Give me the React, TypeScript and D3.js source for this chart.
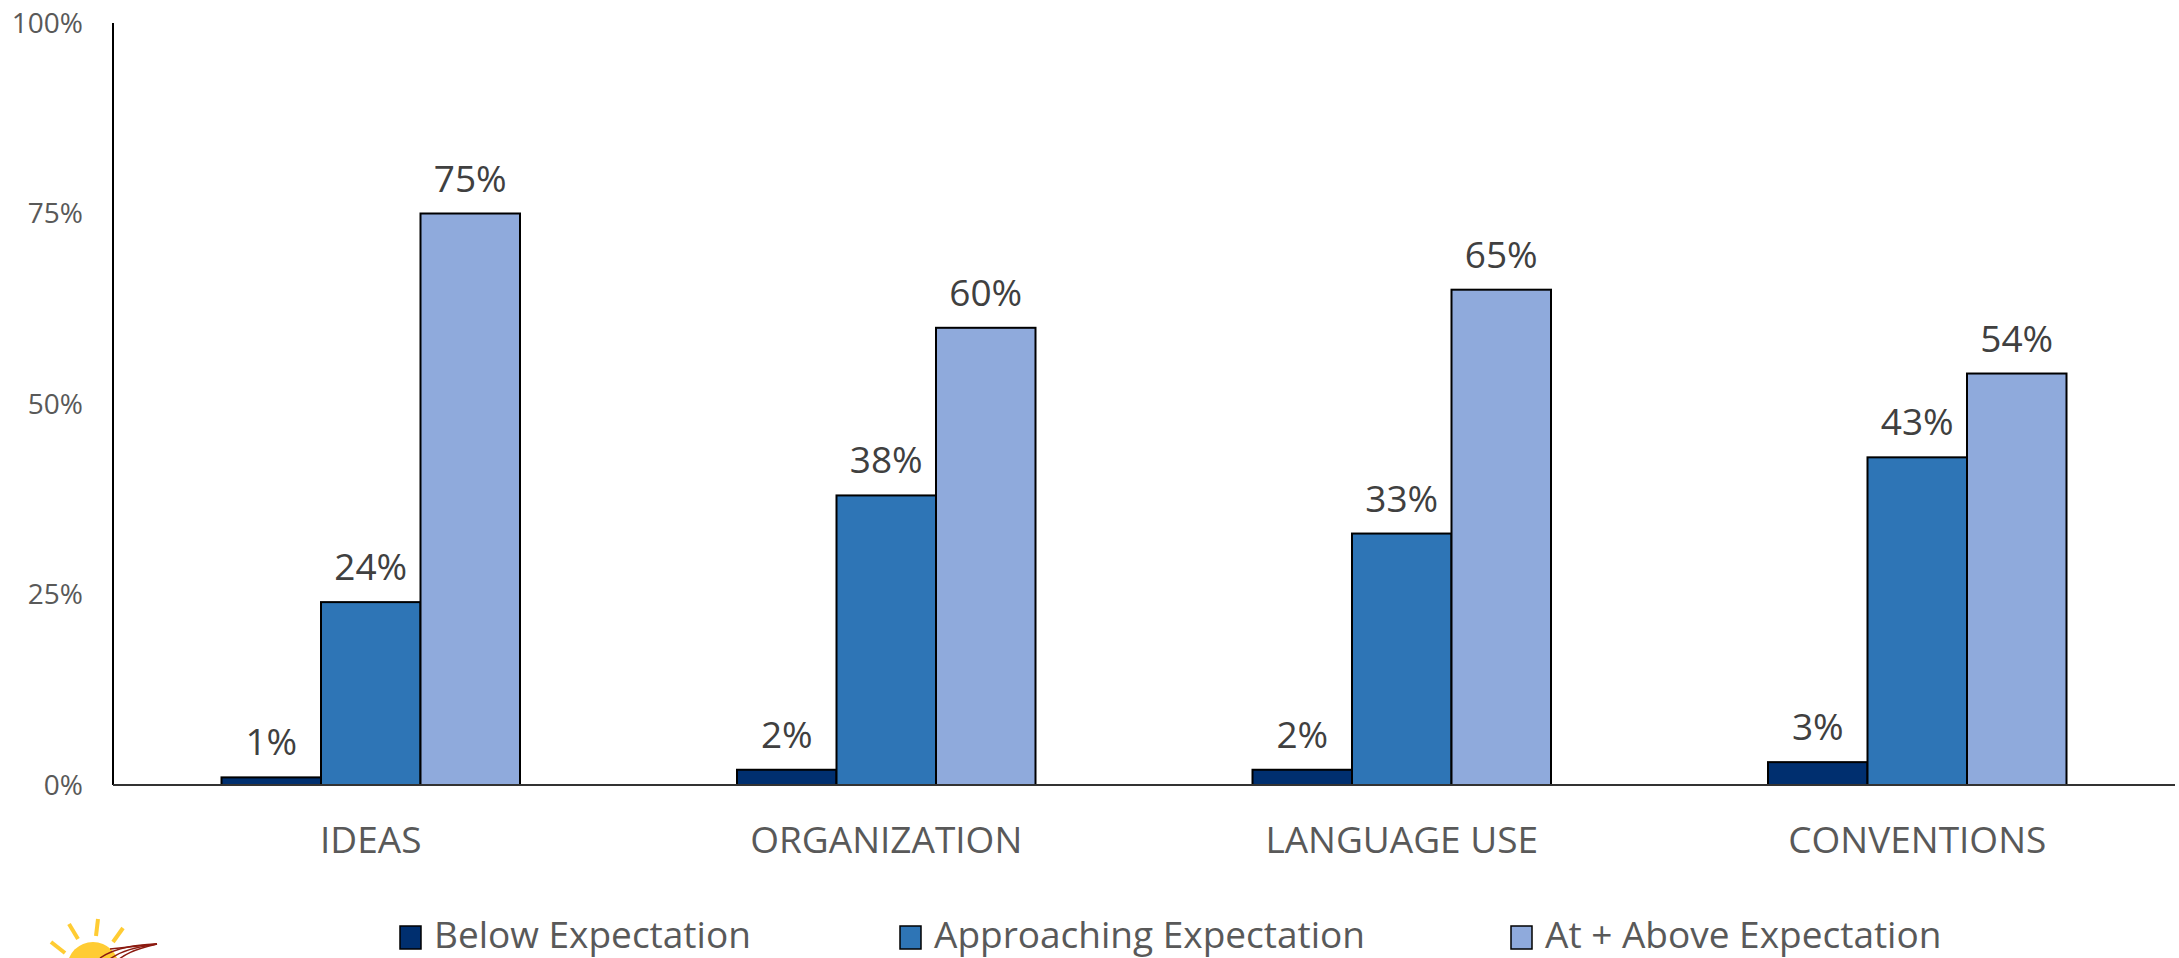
import React from "react";
import * as d3 from "d3";

const categories = ["IDEAS", "ORGANIZATION", "LANGUAGE USE", "CONVENTIONS"];
const seriesNames = ["Below Expectation", "Approaching Expectation", "At + Above Expectation"];
const belowValues = [1, 2, 2, 3];
const approachingValues = [24, 38, 33, 43];
const aboveValues = [75, 60, 65, 54];
const yTicks = [0, 25, 50, 75, 100];
const seriesColors = ["#002F6F", "#2E75B6", "#8FAADC"];

const W = 2179;
const H = 958;
const M = { left: 113, right: 2175, top: 23, bottom: 785 };
const FONT = "'Open Sans', 'Noto Sans', sans-serif";

export default function App() {
  const series = [belowValues, approachingValues, aboveValues];
  const x0 = d3.scaleBand<string>().domain(categories).range([M.left, M.right]).paddingInner(0).paddingOuter(0);
  const groupW = 298.5;
  const x1 = d3
    .scaleBand<string>()
    .domain(seriesNames)
    .range([(x0.bandwidth() - groupW) / 2, (x0.bandwidth() + groupW) / 2])
    .padding(0);
  const y = d3.scaleLinear().domain([0, 100]).range([M.bottom, M.top]);

  const legendX = [400, 900, 1511];

  return (
    <svg
      width={W}
      height={H}
      style={{ position: "absolute", left: 0, top: 0, background: "#fff" }}
      fontFamily={FONT}
    >
      {/* y tick labels */}
      {yTicks.map((t) => (
        <text key={t} x={83} y={y(t)} dy="0.35em" textAnchor="end" fontSize={28} fill="#595959">
          {t}%
        </text>
      ))}
      {/* bars */}
      {categories.map((c, ci) => (
        <g key={c} transform={`translate(${x0(c)},0)`}>
          {series.map((vals, si) => {
            const bx = x1(seriesNames[si])!;
            const by = y(vals[ci]);
            return (
              <g key={si}>
                <rect
                  x={bx}
                  y={by}
                  width={x1.bandwidth()}
                  height={M.bottom - by}
                  fill={seriesColors[si]}
                  stroke="#000"
                  strokeWidth={2}
                />
                <text
                  x={bx + x1.bandwidth() / 2}
                  y={by - 22}
                  textAnchor="middle"
                  fontSize={37}
                  fill="#404040"
                >
                  {vals[ci]}%
                </text>
              </g>
            );
          })}
          <text
            x={x0.bandwidth() / 2}
            y={853}
            textAnchor="middle"
            fontSize={37}
            fill="#595959"
          >
            {c}
          </text>
        </g>
      ))}
      {/* axes */}
      <line x1={M.left} x2={M.left} y1={M.top} y2={M.bottom} stroke="#000" strokeWidth={2} />
      <line x1={M.left} x2={M.right} y1={M.bottom} y2={M.bottom} stroke="#333" strokeWidth={2} />

      {/* legend */}
      {seriesNames.map((s, i) => (
        <g key={s}>
          <rect x={legendX[i]} y={926} width={21} height={23} fill={seriesColors[i]} stroke="#000" strokeWidth={1.5} />
          <text x={legendX[i] + 34} y={948} fontSize={37} fill="#595959">
            {s}
          </text>
        </g>
      ))}

      {/* logo */}
      <g>
        <circle cx={93} cy={968} r={26} fill="#FFCC33" />
        <g stroke="#FFCC33" strokeWidth={4} strokeLinecap="butt">
          <line x1={51} y1={942} x2={65} y2={953} />
          <line x1={69} y1={924} x2={78} y2={939} />
          <line x1={98} y1={919} x2={96} y2={936} />
          <line x1={123} y1={928} x2={113} y2={942} />
        </g>
        <g stroke="#8B1A10" fill="none" strokeWidth={1.5}>
          <path d="M157,944 C140,945 118,946 100,958" />
          <path d="M157,944 C138,947 120,950 106,962" />
          <path d="M157,944 C136,949 122,954 112,966" />
          <path d="M157,944 L110,949" />
        </g>
      </g>
    </svg>
  );
}
